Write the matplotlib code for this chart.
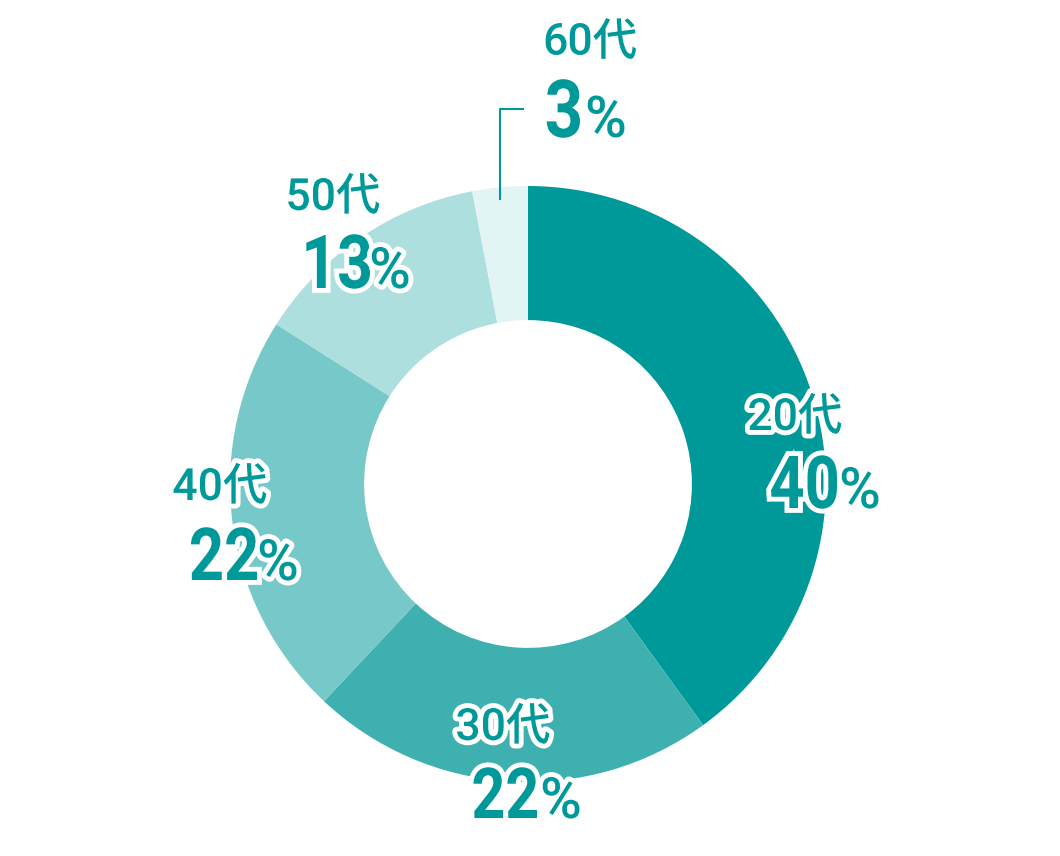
import numpy as np
import matplotlib.pyplot as plt
import matplotlib.patheffects as pe
from matplotlib.textpath import TextPath
from matplotlib.patches import PathPatch
from matplotlib.font_manager import FontProperties
from matplotlib.transforms import Affine2D

# data
ages = ["20代", "30代", "40代", "50代", "60代"]
shares = [40, 22, 22, 13, 3]
colors = ["#009999", "#3eb0b0", "#77c8c8", "#aedfdf", "#e3f4f4"]
TEAL = "#009999"

W, H = 1060, 856
CX, CY, R = 528, 484, 298

fig = plt.figure(figsize=(W / 100, H / 100), dpi=100)
ax = fig.add_axes([0, 0, 1, 1])

ax.pie(shares, colors=colors, startangle=90, counterclock=False,
       radius=1, wedgeprops=dict(width=0.45, linewidth=0))
ax.set_xlim(-CX / R, (W - CX) / R)
ax.set_ylim(-(H - CY) / R, CY / R)
ax.set_aspect("auto")
ax.axis("off")


def px(x, y):
    return (x - CX) / R, (CY - y) / R


lab_font = ["Roboto", "Noto Sans CJK JP"]
num_prop = FontProperties(family="Roboto", weight="bold")
halo = [pe.withStroke(linewidth=7, foreground="white")]
halo_patch = [pe.Stroke(linewidth=7, foreground="white"), pe.Normal()]


def big_number(s, right, base, cap, squeeze=0.84, effects=None):
    # condensed bold number drawn as a path, right edge at `right`
    em = cap / 0.711
    tp = TextPath((0, 0), s, size=em, prop=num_prop)
    ext = tp.get_extents()
    tr = (Affine2D().scale(squeeze, 1)
          .translate(right - ext.x1 * squeeze, H - base)
          .translate(-CX, -(H - CY)).scale(1 / R))
    patch = PathPatch(tr.transform_path(tp), facecolor=TEAL, edgecolor="none",
                      path_effects=effects, zorder=5)
    ax.add_patch(patch)


# label layout in pixels:
# (age label center x, age baseline, number right edge, % left edge, number baseline, cap height)
layout = [
    (795, 430, 837, 839, 508, 52),
    (503, 740, 537, 540, 818, 50),
    (220, 500, 257, 257, 580, 52),
    (333, 210, 370, 369, 288, 53),
    (590, 55, 580, 584, 137, 57),
]

for i, (age, val) in enumerate(zip(ages, shares)):
    cx_, ab, nr, pl, nb, cap = layout[i]
    fx = halo if i < 4 else None
    x, y = px(cx_, ab)
    ax.text(x, y, age, ha="center", va="baseline", fontsize=32,
            fontweight="medium", color=TEAL, family=lab_font, path_effects=fx,
            zorder=6)
    big_number(str(val), nr, nb, cap, effects=halo_patch if i < 4 else None)
    x, y = px(pl, nb)
    ax.text(x, y, "%", ha="left", va="baseline", fontsize=41,
            fontweight="medium", color=TEAL, family="Roboto", path_effects=fx,
            zorder=6)

# leader line for the smallest slice
mid = np.deg2rad(90 - (sum(shares[:4]) + shares[4] / 2) / sum(shares) * 360)
x0 = np.cos(mid)
ax.plot([x0, x0, px(524, 0)[0]], [0.953, 1.26, 1.26], color=TEAL, lw=1.5,
        solid_capstyle="butt")

fig.savefig("out.png", dpi=100)
